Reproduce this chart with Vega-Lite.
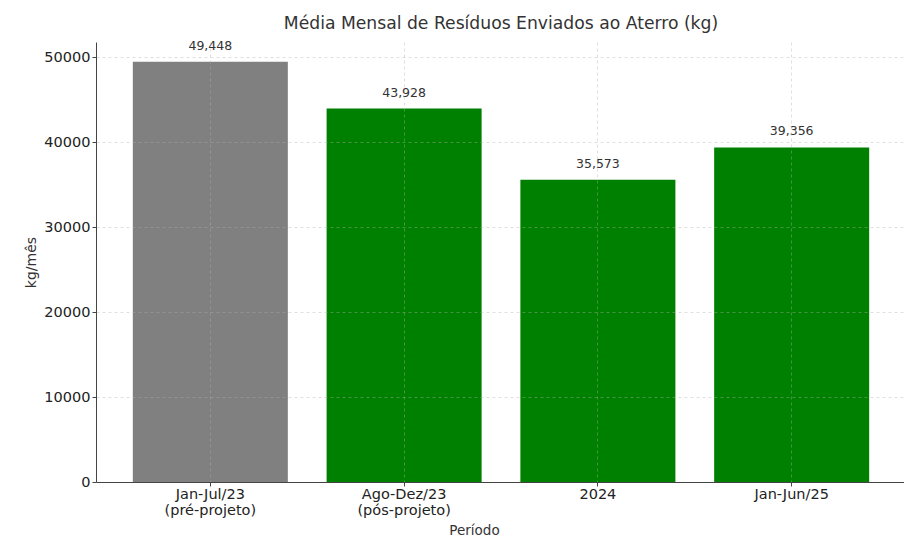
{
  "$schema": "https://vega.github.io/schema/vega-lite/v6.json",
  "autosize": {"type": "none"},
  "padding": {"left": 96, "top": 42, "right": 0, "bottom": 64},
  "width": 810,
  "height": 440,
  "background": "white",
  "title": {
    "text": "Média Mensal de Resíduos Enviados ao Aterro (kg)",
    "font": "DejaVu Sans",
    "fontSize": 17.2,
    "fontWeight": "normal",
    "color": "#333333",
    "anchor": "middle",
    "offset": 7
  },
  "data": {
    "values": [
      {"periodo": "Jan-Jul/23|(pré-projeto)", "valor": 49448, "grupo": "pre"},
      {"periodo": "Ago-Dez/23|(pós-projeto)", "valor": 43928, "grupo": "pos"},
      {"periodo": "2024", "valor": 35573, "grupo": "pos"},
      {"periodo": "Jan-Jun/25", "valor": 39356, "grupo": "pos"}
    ]
  },
  "encoding": {
    "x": {
      "field": "periodo",
      "type": "nominal",
      "sort": null,
      "scale": {"paddingInner": 0.2, "paddingOuter": 0.19},
      "axis": {
        "title": "Período",
        "titleFont": "DejaVu Sans",
        "titleFontSize": 13.5,
        "titleFontWeight": "normal",
        "titleColor": "#333333",
        "titleX": 378,
        "titleY": 48,
        "titleBaseline": "middle",
        "labelAngle": 0,
        "labelExpr": "split(datum.value, '|')",
        "labelFont": "DejaVu Sans",
        "labelFontSize": 14.5,
        "labelColor": "#222222",
        "labelLineHeight": 16.5,
        "labelPadding": 1,
        "tickSize": 4,
        "tickColor": "#444444",
        "domainColor": "#444444",
        "grid": true,
        "gridColor": "#b0b0b0",
        "gridOpacity": 0.5,
        "gridDash": [3, 3],
        "gridWidth": 0.8,
        "zindex": 1
      }
    },
    "y": {
      "field": "valor",
      "type": "quantitative",
      "scale": {"domain": [0, 51765], "nice": false},
      "axis": {
        "title": "kg/mês",
        "titleFont": "DejaVu Sans",
        "titleFontSize": 14,
        "titleFontWeight": "normal",
        "titleColor": "#333333",
        "titleX": -65,
        "titleBaseline": "middle",
        "values": [0, 10000, 20000, 30000, 40000, 50000],
        "format": "d",
        "labelFont": "DejaVu Sans",
        "labelFontSize": 14.5,
        "labelColor": "#222222",
        "labelPadding": 2,
        "tickSize": 4,
        "tickColor": "#444444",
        "domainColor": "#444444",
        "grid": true,
        "gridColor": "#b0b0b0",
        "gridOpacity": 0.5,
        "gridDash": [3, 3],
        "gridWidth": 0.8,
        "zindex": 1
      }
    }
  },
  "layer": [
    {
      "mark": {"type": "bar"},
      "encoding": {
        "color": {
          "field": "grupo",
          "type": "nominal",
          "scale": {"domain": ["pre", "pos"], "range": ["#808080", "#008000"]},
          "legend": null
        }
      }
    },
    {
      "mark": {
        "type": "text",
        "baseline": "bottom",
        "dy": -9,
        "font": "DejaVu Sans",
        "fontSize": 12.5,
        "color": "#333333"
      },
      "encoding": {
        "text": {"field": "valor", "type": "quantitative", "format": ",d"}
      }
    }
  ],
  "config": {
    "view": {"stroke": null}
  }
}
